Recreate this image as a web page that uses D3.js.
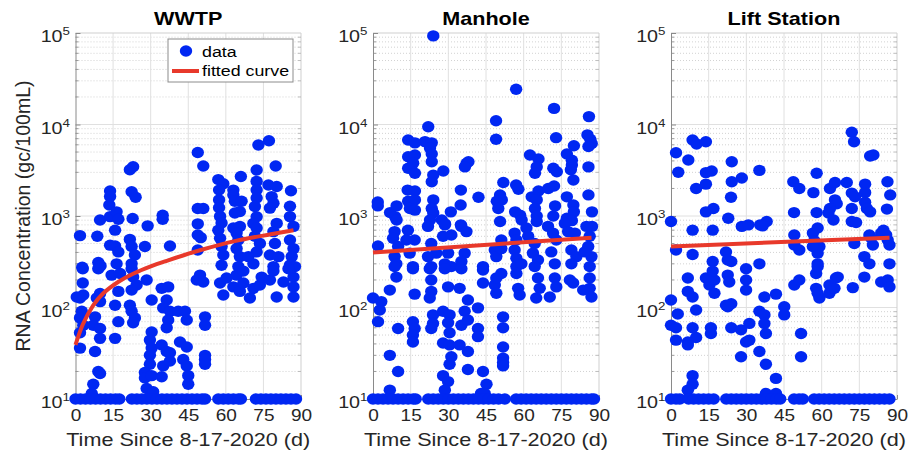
<!DOCTYPE html>
<html><head><meta charset="utf-8">
<script src="https://cdn.jsdelivr.net/npm/d3@7"></script>
<style>html,body{margin:0;padding:0;background:#fff;} svg{display:block;font-family:"Liberation Sans",Arial,Helvetica,sans-serif;}</style>
</head><body><svg id="chart" width="912" height="453"></svg>
<script>
// ---------------- DATA ----------------
const panelTitles = ["WWTP", "Manhole", "Lift Station"];
const xTicks = [0, 15, 30, 45, 60, 75, 90];
const yTicks = [10, 100, 1000, 10000, 100000];
const yTickExponents = ["1", "2", "3", "4", "5"];
const xLabel = "Time Since 8-17-2020 (d)";
const yLabel = "RNA Concentration (gc/100mL)";
const legendLabels = ["data", "fitted curve"];
const lodValue = 10;

// [day, gc/100mL]
const wwtpPoints = [
 [1.8,610],[2.7,275],[8.7,600],[9.1,310],[10,285],[9.8,905],
 [13.8,1880],[13.8,1630],[13.5,1320],[13.8,985],[16.4,1110],[17.1,920],[15.8,700],[13.8,480],[15.8,470],[17.1,405],[16.4,300],
 [21.7,3200],[23,3450],[22.4,1840],[24,1600],[22.8,940],[21.7,555],[22.4,465],[23.7,375],[22.4,300],
 [28.8,780],[27.7,465],[34.8,1020],[34.8,920],[37.7,470],
 [48.8,4950],[51,3520],[48.8,1210],[51,1210],[48.8,820],[48.8,620],[50,580],[48.8,425],
 [57,2500],[59,2250],[57.3,1920],[57.3,1500],[57.3,1230],[57.7,990],[58.3,840],[57,700],[57.7,570],[58.3,465],[59,375],[58.3,290],
 [63,1920],[63,1700],[63.6,1450],[66,2700],[66.3,1450],[65.6,1120],[63.6,1080],[63,740],[65.6,770],[64.3,650],[65,547],[64.3,440],[65.6,360],[65,280],
 [72.3,3180],[72.3,2390],[72.3,1920],[72.3,1570],[71.6,1270],[72.3,980],[71,830],[72.3,740],[71.6,600],[73.6,500],[72.3,405],[71,300],[69,360],
 [73,5970],[77.2,6650],[79.9,3520],
 [77,2180],[80.3,2100],[78.3,1630],[79,1380],[77.6,1220],[80.3,830],[79,675],[79.6,500],[77.6,375],[81,360],[79,280],
 [86,1890],[85.6,1280],[85.6,985],[87,770],[85.6,547],[87,440],[86.3,360],[85.6,291],[87.6,280],
 [2.9,265],[2.9,185],[0.5,130],[1.8,127],[3.1,137],[2.5,91],[1.8,77],[3.1,64],[1.8,53],[1.8,36],[7.8,33],
 [9.1,265],[9.8,142],[8.5,127],[9.8,116],[7.8,79],[7.1,64],[9.8,59],[9.8,46],[9.1,20],[9.8,19],[7.1,14.5],
 [15.8,46],[17.1,70],[15.8,106],[17.1,150],[14.4,226],[17.8,235],
 [22.4,265],[23,215],[24.4,176],[22.4,155],[21.7,106],[22.4,91],[23.7,77],[23,68],
 [28.4,200],[30.4,121],[34.4,162],[37,168],[36.4,121],[35,99],[37.7,91],[37,73],[36.4,60],[41,91],[43.7,91],[44.4,73],
 [30.4,54],[29.7,44],[30.4,36],[29.7,30],[29.7,24],[27.7,19.5],[27.7,17],[30.4,18],
 [34.4,39],[36.4,33],[37.7,32],[35,23],[37.7,26],[34.4,17.5],
 [41.7,42],[44.4,37],[43,27],[44.4,23],[45,18],[45,14.5],[28.4,13],[31,12],
 [51.7,79],[51.7,64],[51.7,30],[51.7,27],[51.7,24],[49.7,226],[48.4,200],[51,190],
 [57.7,185],[59,137],[60.3,210],[63,168],[64.3,226],[65.6,150],[67,185],[67,250],
 [69.6,127],[71,162],[73.6,176],[74.3,215],[77.6,200],[79,250],
 [80.3,130],[83,190],[87,215],[87,168],[87,130],[85,265],[6.5,11.5]
];
const wwtpLodDays = [0,2,4,6,8,10,12,14,16,17.5,22.5,24.5,26.5,28.5,30.5,32.5,34.5,36.5,38.5,40.5,42.5,44.5,46.5,48.5,50.5,51.7,57,59,61,63,65,66,72,74,76,78,80,82,84,86,88];
const wwtpFit = [[0,39],[3,66],[7,105],[11,142],[17,190],[23,234],[30,282],[37,328],[50,425],[64,535],[78,632],[87,700]];

const manholePoints = [
 [24,93000],[57,24300],[72.1,15000],[86,12200],[49,11000],[22,9450],[49,6890],[72.9,7180],
 [85.4,7700],[86.5,6890],[87.1,6200],[85.8,5740],[80,5850],
 [14,6760],[16.7,6300],[20.7,6500],[23.4,6300],[22.7,5520],[23.4,4760],
 [14,4450],[16.7,4640],[16,3770],[14,3320],[16.7,2930],
 [23.4,3920],[24,2800],[23.4,2370],[28,3100],
 [37.3,3770],[38,3920],[36.6,3440],
 [62.5,4640],[65.9,4190],[65.2,3440],[64.5,2930],
 [77.2,4760],[79.2,4070],[79.2,3600],[78.8,3200],[79.8,2470],
 [71.8,3320],[73.2,3050],[85.8,3440],
 [51.9,2320],[57,2180],[57.9,1960],
 [50.6,1700],[51.3,1500],[49.3,1450],[49.9,1210],
 [42,1600],[35,1920],[34.9,1320],
 [13.8,1920],[16.7,1880],[14,1450],[16.7,1500],[14.7,1210],[16.7,1160],
 [1.9,1420],[1.9,1290],
 [6.8,1090],[9.4,1290],[8.8,985],[9.4,905],
 [24,1500],[23.4,1210],[24,1080],[22.7,905],
 [31,1110],
 [56.6,1110],[58.6,1020],[59.2,905],
 [63.2,1620],[65.9,1880],[65.2,1500],[64.5,1210],[65.2,1000],[65.2,870],
 [69.8,2000],[72.1,2130],[72.5,1290],[71.8,1000],
 [77.2,1620],[79.8,1320],[80,1110],[77.2,945],[79.2,890],
 [85.8,1700],[87.2,1110],[87.2,770],
 [27.4,905],[28.7,820],[35,800],[50.6,870],
 [2,470],[8.6,675],[8,570],[10,465],[8.6,360],[9.3,300],
 [13.9,700],[13.3,547],[16.6,547],[14.6,393],[15.9,280],
 [21.9,770],[23.2,500],[21.9,360],[23.2,280],[25.2,393],
 [28.6,800],[27.9,600],[31.2,620],[29.9,393],[28.6,300],[31.2,280],
 [35.2,770],[37.2,675],[36.5,393],[35.2,318],
 [43.8,280],[48.5,425],[49.1,360],[51.1,547],[51.1,440],
 [56.4,650],[57.1,547],[56.4,425],[57.1,345],[57.1,280],[59.1,300],
 [61.1,740],[61.8,600],[64.4,500],[63.7,393],[65.7,330],[64.4,280],
 [69.7,770],[71.7,650],[73,547],[71,405],[72.4,300],
 [76.4,830],[77.7,675],[80.4,650],[79,425],[81,360],[79,300],
 [85,770],[86.3,600],[85.7,465],[87,360],[84.3,405],[86.3,280],
 [0,127],[3.3,116],[2.7,94],[2,70],[6.7,155],[10,59],[6.7,30],[10,20],[9.3,215],[8.6,280],
 [15.9,265],[16.6,140],[15.9,70],[16.6,59],[15.9,50],[15.9,42],
 [22.6,265],[23.2,200],[23.2,150],[22.6,127],[23.9,83],[23.9,67],[23.2,59],
 [28.6,265],[29.9,168],
 [27.9,91],[30.5,83],[29.9,68],[30.5,53],[27.9,41],[30.5,39],
 [31.2,29],[30.5,24],[27.9,18],[29.9,15.5],[28.6,12.5],
 [35.2,265],[34.5,162],[37.8,121],[36.5,91],[35.2,64],[37.8,73],
 [34.5,39],[37.8,33],[37.8,21],
 [41.8,99],[41.8,59],[41.8,48],
 [43.8,257],[43.8,185],[43.8,20],[45.2,14.5],
 [48.5,176],[49.1,143],[51.1,235],[49.1,210],
 [51.8,79],[51.8,60],[51.8,37],[51.8,28],[51.8,25],[51.8,23],
 [57.8,162],[58.4,137],[57.1,235],
 [65.7,210],[66.4,162],[65,127],[70.4,130],[72.4,210],[73,168],[78.4,200],[79.7,185],
 [86.3,210],[86.3,162],[87,130],[83.7,155],
 [6.7,12.5],[43,11.5],[44.5,11.5]
];
const manholeLodDays = [0,2,4,6,8,10,12,14,16,17,22,24,26,28,30,32,34,36,38,40,42,44,46,48,50,52.5,57,59,61,63,65,67,69,71,73,75,77,79,81,83,85,87,88];
const manholeFit = [[0,400],[87,580]];

const liftPoints = [
 [72,8220],[72.9,6490],[8.6,6760],[10.2,6120],[13.9,6490],[2,4920],[6.9,4090],[2.9,3010],[13.9,2980],[16.2,3100],
 [24.2,3920],[35.2,3150],[28.2,2600],[24.2,2370],[10,2000],[13.9,2230],[23.9,1600],[13.9,1110],[16.9,1210],[22.8,945],
 [0,870],[28.2,770],[30.8,800],[35.5,800],[38.1,870],[36.5,780],
 [48.7,2370],[51.1,2000],[58,2930],[49,1090],[58,1090],[56.7,1800],[63.3,2000],[65.3,2320],[70,2320],
 [65.3,1500],[66,1360],[63.3,1210],[62.7,1080],[64.7,905],
 [72,1780],[73.3,1620],[72,1210],[72,870],[73.7,850],
 [77.3,2230],[77.3,1800],[77.3,1410],[78,1210],[79.3,1110],
 [79.3,4530],[80.6,4640],[86.2,2370],[87.3,1700],[86,1190],[84.6,700],
 [2,425],[8.6,700],[8.6,380],[16.6,700],[16.6,318],[21.9,405],[22.6,330],[24,318],[29.9,265],[35.2,300],
 [49.1,620],[49.1,482],[51.1,425],
 [56.5,650],[58.4,740],[57.1,535],[59.1,465],[58.4,393],[58.4,300],[56.5,465],
 [73,500],[77,360],[79,300],[79,620],[80.4,482],[79.7,575],
 [83.7,650],[85.7,620],[86.3,547],[87,482],[87,300],
 [0,121],[2.7,85],[0,64],[2,60],[2,44],[6.7,210],[6.7,150],[8.6,130],[10,94],[8.6,60],[10,47],[6.7,42],[6.7,39],[8.6,18],[8.6,14.5],[6.7,12.5],
 [13.9,210],[15.3,176],[17.3,200],[17.3,143],[16.6,250],[15.9,60],[15.9,52],
 [22.6,226],[23.2,190],[21.9,106],[24,110],[22.6,102],[24,60],[27.9,57],
 [29.9,200],[29.9,155],[31.2,67],[29.9,42],[31.2,44],[27.9,29],
 [35.2,91],[37.2,83],[37.2,67],[37.8,52],[37.2,130],[35.2,33],[37.8,24],[41.8,16.8],[41.8,140],[45.1,102],[45.1,83],
 [49.1,176],[51.1,200],[51.8,52],[51.8,29],
 [57.8,235],[58.4,280],[57.8,162],[59.1,127],[58.4,143],
 [63.1,176],[63.1,143],[65.1,162],[65.7,210],[66.4,215],
 [72.4,165],[77,215],[83.7,190],[86.3,200],[87,168],
 [37.8,11.5],[41.8,11.5]
];
const liftLodDays = [0,2,3.5,7,9,11,13,15,17,22,24,26,28,30,32,34,36,38,40,42,43.5,49,51,52.5,57,59,61,63,65,67,69,71,73,75,77,79,81,83,85,87];
const liftFit = [[0,465],[87,580]];

// ---------------- LAYOUT ----------------
const FONT = '"Liberation Sans", Arial, Helvetica, sans-serif';
const BLUE = "#0027f2", RED = "#e8392b";
const TOP = 33, BOT = 399;
const panelX = [[75.5, 301], [373, 599], [671, 897]];
const datasets = [
  {pts: wwtpPoints, lod: wwtpLodDays, fit: wwtpFit},
  {pts: manholePoints, lod: manholeLodDays, fit: manholeFit},
  {pts: liftPoints, lod: liftLodDays, fit: liftFit}
];

const svg = d3.select("#chart");
svg.append("rect").attr("width", 912).attr("height", 453).attr("fill", "#fff");

const minorVals = [];
for (let e = 1; e < 5; e++) for (let m = 2; m < 10; m++) minorVals.push(m * Math.pow(10, e));

datasets.forEach((ds, i) => {
  const [x0, x1] = panelX[i];
  const x = d3.scaleLinear().domain([0, 90]).range([x0, x1]);
  const y = d3.scaleLog().domain([10, 1e5]).range([BOT, TOP]);
  const g = svg.append("g");
  const cx = (x0 + x1) / 2;

  // grid
  g.append("g").selectAll("line").data(minorVals).join("line")
    .attr("x1", x0).attr("x2", x1).attr("y1", d => y(d)).attr("y2", d => y(d))
    .attr("stroke", "#d2d2d2").attr("stroke-width", 1).attr("stroke-dasharray", "1,2");
  g.append("g").selectAll("line").data(yTicks.slice(1, 4)).join("line")
    .attr("x1", x0).attr("x2", x1).attr("y1", d => y(d)).attr("y2", d => y(d))
    .attr("stroke", "#e0e0e0").attr("stroke-width", 1);
  g.append("g").selectAll("line").data(xTicks.slice(1, 6)).join("line")
    .attr("x1", d => x(d)).attr("x2", d => x(d)).attr("y1", TOP).attr("y2", BOT)
    .attr("stroke", "#e0e0e0").attr("stroke-width", 1);
  // box top/right
  g.append("line").attr("x1", x0).attr("x2", x1).attr("y1", TOP).attr("y2", TOP).attr("stroke", "#cfcfcf");
  g.append("line").attr("x1", x1).attr("x2", x1).attr("y1", TOP).attr("y2", BOT).attr("stroke", "#cfcfcf");
  // minor ticks inward left/right
  g.append("g").selectAll("line").data(minorVals).join("line")
    .attr("x1", x0).attr("x2", x0 + 3).attr("y1", d => y(d)).attr("y2", d => y(d)).attr("stroke", "#9a9a9a");
  g.append("g").selectAll("line").data(minorVals).join("line")
    .attr("x1", x1 - 3).attr("x2", x1).attr("y1", d => y(d)).attr("y2", d => y(d)).attr("stroke", "#bdbdbd");

  // x axis
  const xa = g.append("g").attr("transform", `translate(0,${BOT})`)
    .call(d3.axisBottom(x).tickValues(xTicks).tickSizeInner(-4).tickSizeOuter(0).tickPadding(10));
  xa.attr("font-family", FONT).attr("font-size", 17);
  xa.select(".domain").attr("stroke", "#8a8a8a");
  xa.selectAll(".tick line").attr("stroke", "#8a8a8a");
  xa.selectAll(".tick text").attr("fill", "#262626").attr("transform", "scale(1.12,1)");

  // y axis
  const ya = g.append("g").attr("transform", `translate(${x0},0)`)
    .call(d3.axisLeft(y).tickValues(yTicks).tickFormat(() => "").tickSizeInner(-5).tickSizeOuter(0).tickPadding(6));
  ya.attr("font-family", FONT).attr("font-size", 17);
  ya.select(".domain").attr("stroke", "#8a8a8a");
  ya.selectAll(".tick line").attr("stroke", "#8a8a8a");
  ya.selectAll(".tick text").each(function (d) {
    const t = d3.select(this);
    t.text(null).attr("dy", null).attr("y", 8.5).attr("x", -5.5 / 1.16)
      .attr("fill", "#262626").attr("transform", "scale(1.16,1)");
    t.append("tspan").text("10");
    t.append("tspan").attr("font-size", 11.5).attr("dy", -6.8).text(yTickExponents[yTicks.indexOf(d)]);
  });

  // points
  const all = ds.pts.concat(ds.lod.map(dd => [dd, lodValue]));
  g.append("g").selectAll("ellipse").data(all).join("ellipse")
    .attr("cx", d => x(d[0])).attr("cy", d => y(d[1]))
    .attr("rx", 6.2).attr("ry", 5.7).attr("fill", BLUE);

  // fitted curve
  const line = d3.line().x(d => x(d[0])).y(d => y(d[1])).curve(d3.curveCatmullRom.alpha(0.5));
  g.append("path").datum(ds.fit).attr("d", line)
    .attr("fill", "none").attr("stroke", RED).attr("stroke-width", 4).attr("stroke-linecap", "butt");

  // title
  g.append("text").attr("transform", `translate(${cx},25) scale(1.2,1)`)
    .attr("text-anchor", "middle").attr("font-family", FONT).attr("font-weight", "bold")
    .attr("font-size", 18).attr("fill", "#000").text(panelTitles[i]);
  // x label
  g.append("text").attr("transform", `translate(${cx},446) scale(1.2,1)`)
    .attr("text-anchor", "middle").attr("font-family", FONT)
    .attr("font-size", 18).attr("fill", "#262626").text(xLabel);
});

// y label
svg.append("text").attr("transform", "translate(30,216) rotate(-90)")
  .attr("text-anchor", "middle").attr("font-family", FONT).attr("font-size", 19.5)
  .attr("fill", "#262626").text(yLabel);

// legend
const lg = svg.append("g");
lg.append("rect").attr("x", 168).attr("y", 39).attr("width", 125).attr("height", 43)
  .attr("fill", "#fff").attr("stroke", "#8c8c8c").attr("stroke-width", 1);
lg.append("ellipse").attr("cx", 186).attr("cy", 51).attr("rx", 6.2).attr("ry", 5.7).attr("fill", BLUE);
lg.append("line").attr("x1", 172).attr("x2", 199).attr("y1", 71).attr("y2", 71)
  .attr("stroke", RED).attr("stroke-width", 4);
lg.append("text").attr("transform", "translate(202,56.5) scale(1.15,1)").attr("font-family", FONT)
  .attr("font-size", 15.5).attr("fill", "#000").text(legendLabels[0]);
lg.append("text").attr("transform", "translate(202,76) scale(1.15,1)").attr("font-family", FONT)
  .attr("font-size", 15.5).attr("fill", "#000").text(legendLabels[1]);
</script></body></html>
